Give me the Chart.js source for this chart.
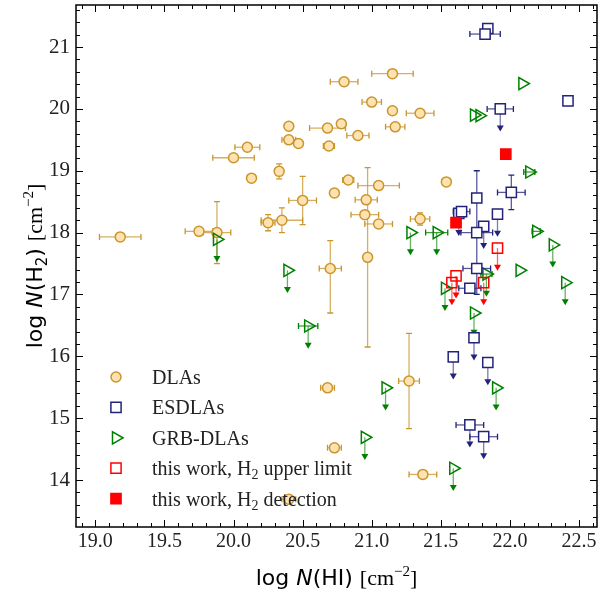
<!DOCTYPE html>
<html>
<head>
<meta charset="utf-8">
<script src="https://cdn.jsdelivr.net/npm/chart.js@4.4.1/dist/chart.umd.min.js"></script>
<style>
  html, body { margin: 0; padding: 0; background: #ffffff; }
  #wrap { width: 614px; height: 592px; }
</style>
</head>
<body>
<div id="wrap"><canvas id="c" width="614" height="592"></canvas></div>
<script>
// ---------- H I and H2 column densities (log cm^-2) ----------
// DLAs
const dlaHI = [20.80,20.40,20.68,20.78,20.40,20.47,20.69,20.10,20.00,20.13,
               20.33,20.83,20.73,20.50,20.25,20.35,19.75,19.88,19.18,20.70,
               21.15,21.00,21.15,21.35,21.17,20.90,21.05,21.54,20.96,20.95,
               21.05,21.35,20.97,20.68,20.73,20.40,21.27,21.37];
const dlaH2 = [20.44,19.72,19.69,19.76,19.50,19.44,19.40,19.38,19.21,18.88,
               18.99,18.85,18.64,18.52,18.16,18.20,18.02,18.00,17.93,17.42,
               20.57,20.11,19.97,19.93,19.71,19.57,18.76,18.82,18.53,18.29,
               18.14,18.22,17.60,15.49,14.52,13.69,15.60,14.09];
const dlaHIerr = [0.10,0,0.13,0,0.05,0,0.04,0.09,0.15,0,
                  0,0.04,0,0.10,0.05,0.15,0.10,0.10,0.15,0.08,
                  0.15,0.07,0,0.10,0.07,0.08,0.15,0,0.08,0.10,
                  0.10,0.07,0,0.05,0.05,0.05,0.075,0.10];
const dlaH2errLo = [0,0,0,0,0.05,0,0.05,0.04,0.05,0,
                    0.12,0.05,0,0.39,0.13,0.20,0.04,0.50,0,0.72,
                    0,0,0,0,0,0.05,0,0,0,0,
                    0,0.10,1.45,0,0,0,0.77,0];
const dlaH2errHi = [0,0,0,0,0.05,0,0.05,0.04,0.05,0,
                    0.12,0.05,0,0.39,0.13,0.20,0.04,0.50,0,0.45,
                    0,0,0,0,0,0.05,0,0,0,0,
                    0,0.10,1.45,0,0,0,0.77,0];

// ESDLAs
const esHI    = [21.84,21.82,22.42,21.93,22.01,21.76,21.63,21.65,21.91,21.81,21.76,21.76,21.71,21.74,21.59,21.84,21.71,21.81];
const esH2    = [21.30,21.21,20.13,20.00,18.65,18.56,18.31,18.34,18.30,18.10,18.00,17.42,17.10,16.30,15.99,15.90,14.89,14.70];
const esHIerr = [0,0.11,0,0.095,0.10,0,0,0.06,0,0,0.115,0.10,0.08,0,0,0,0.10,0.10];
const esH2err = [0,0,0,0,0.28,0,0,0,0,0,1.0,0,0,0,0,0,0,0];
const esUpper = [0,0,0,1,0,0,1,0,1,1,0,0,0,1,1,1,1,1];

// GRB-DLAs
const grbHI    = [22.09,21.74,21.78,22.14,22.19,22.31,21.28,21.47,22.07,22.40,21.53,21.74,21.83,21.90,21.10,20.95,21.59,20.39,20.54,19.88];
const grbH2    = [20.41,19.90,19.89,18.98,18.02,17.80,18.00,18.00,17.39,17.19,17.10,16.70,17.33,15.49,15.49,14.69,14.19,17.39,16.49,17.89];
const grbHIerr = [0,0,0,0.04,0.03,0,0,0.08,0,0,0,0,0.04,0,0,0,0,0,0.07,0];
const grbUpper = [0,0,0,0,0,1,1,1,0,1,1,1,1,1,1,1,1,1,1,1];

// this work
const twLimHI = [21.61,21.58,21.81,21.91];
const twLimH2 = [17.30,17.19,17.19,17.75];
const twDetHI = [21.61,21.97];
const twDetH2 = [18.16,19.27];

// axis ticks
const xMajorTicks = [19.0,19.5,20.0,20.5,21.0,21.5,22.0,22.5];
const yMajorTicks = [14,15,16,17,18,19,20,21];
const X_MINOR_STEP = 0.1, Y_MINOR_STEP = 0.2;
const X_RANGE = [18.86, 22.63];
const Y_RANGE = [13.24, 21.68];
const LIMIT_ARROW = 0.35;   // length of upper-limit arrows (dex)

// legend entries
const legendLabels = ['DLAs', 'ESDLAs', 'GRB-DLAs', 'this work, H|2| upper limit', 'this work, H|2| detection'];

// ---------- styles ----------
const SERIF = '"Liberation Serif", "Times New Roman", serif';
const SANS = '"DejaVu Sans", sans-serif';
const C_DLA_EDGE = '#c8962d', C_DLA_FACE = '#ffe2b0';
const C_ES = '#23237a', C_GRB = '#008000', C_RED = '#ff0000';

const pts = (xs, ys) => xs.map((x, i) => ({x: x, y: ys[i]}));
const zeros = n => new Array(n).fill(0);

const datasets = [
  { label: 'DLAs', data: pts(dlaHI, dlaH2), order: 5,
    pointStyle: 'circle', pointRadius: 5, pointBorderWidth: 1.5,
    backgroundColor: C_DLA_FACE, borderColor: C_DLA_EDGE,
    err: { color: C_DLA_EDGE, xerr: dlaHIerr, ylo: dlaH2errLo, yhi: dlaH2errHi, up: zeros(dlaHI.length) } },
  { label: 'GRB-DLAs', data: pts(grbHI, grbH2), order: 4,
    pointStyle: 'triangle', pointRotation: 90, pointRadius: 7, pointBorderWidth: 1.5,
    backgroundColor: 'rgba(0,0,0,0)', borderColor: C_GRB,
    err: { color: C_GRB, xerr: grbHIerr, ylo: zeros(grbHI.length), yhi: zeros(grbHI.length), up: grbUpper } },
  { label: 'ESDLAs', data: pts(esHI, esH2), order: 3,
    pointStyle: 'rect', pointRadius: 7.2, pointBorderWidth: 1.5,
    backgroundColor: '#ffffff', borderColor: C_ES,
    err: { color: C_ES, xerr: esHIerr, ylo: esH2err, yhi: esH2err, up: esUpper } },
  { label: 'this work, upper limit', data: pts(twLimHI, twLimH2), order: 2,
    pointStyle: 'rect', pointRadius: 7.2, pointBorderWidth: 1.5,
    backgroundColor: 'rgba(0,0,0,0)', borderColor: C_RED,
    err: { color: C_RED, xerr: zeros(4), ylo: zeros(4), yhi: zeros(4), up: [1,1,1,1] } },
  { label: 'this work, detection', data: pts(twDetHI, twDetH2), order: 1,
    pointStyle: 'rect', pointRadius: 7.2, pointBorderWidth: 1.5,
    backgroundColor: C_RED, borderColor: C_RED }
];

// error bars and upper-limit arrows, drawn just below each dataset's markers
const errorBars = {
  id: 'errorBars',
  beforeDatasetDraw(chart, args) {
    const ds = chart.data.datasets[args.index];
    if (!ds.err) return;
    const {ctx, scales: {x: xs, y: ys}} = chart;
    const e = ds.err, cap = 3;
    ctx.save();
    ctx.lineWidth = 1.3;
    ds.data.forEach((p, i) => {
      const px = xs.getPixelForValue(p.x), py = ys.getPixelForValue(p.y);
      ctx.strokeStyle = e.color; ctx.fillStyle = e.color;
      if (e.xerr[i] > 0) {
        const x0 = xs.getPixelForValue(p.x - e.xerr[i]), x1 = xs.getPixelForValue(p.x + e.xerr[i]);
        ctx.globalAlpha = 0.75;
        ctx.beginPath(); ctx.moveTo(x0, py); ctx.lineTo(x1, py); ctx.stroke();
        ctx.globalAlpha = 1;
        ctx.beginPath();
        ctx.moveTo(x0, py - cap); ctx.lineTo(x0, py + cap);
        ctx.moveTo(x1, py - cap); ctx.lineTo(x1, py + cap);
        ctx.stroke();
      }
      if (e.ylo[i] > 0 || e.yhi[i] > 0) {
        const y0 = ys.getPixelForValue(p.y - e.ylo[i]), y1 = ys.getPixelForValue(p.y + e.yhi[i]);
        ctx.globalAlpha = 0.75;
        ctx.beginPath(); ctx.moveTo(px, y0); ctx.lineTo(px, y1); ctx.stroke();
        ctx.globalAlpha = 1;
        ctx.beginPath();
        ctx.moveTo(px - cap, y0); ctx.lineTo(px + cap, y0);
        ctx.moveTo(px - cap, y1); ctx.lineTo(px + cap, y1);
        ctx.stroke();
      }
      if (e.up[i]) {
        const yEnd = ys.getPixelForValue(p.y - LIMIT_ARROW);
        ctx.globalAlpha = 0.6;
        ctx.beginPath(); ctx.moveTo(px, py); ctx.lineTo(px, yEnd - 4); ctx.stroke();
        ctx.globalAlpha = 1;
        ctx.beginPath();
        ctx.moveTo(px - 3.5, yEnd - 5); ctx.lineTo(px + 3.5, yEnd - 5); ctx.lineTo(px, yEnd + 1);
        ctx.closePath(); ctx.fill();
      }
    });
    ctx.restore();
  }
};

// axes frame with inward ticks on all four sides
const frameTicks = {
  id: 'frameTicks',
  afterDatasetsDraw(chart) {
    const {ctx, chartArea: a, scales: {x: xs, y: ys}} = chart;
    ctx.save();
    ctx.strokeStyle = '#000'; ctx.lineWidth = 1;
    const tick = (len, isX, v) => {
      if (isX) {
        const p = Math.round(xs.getPixelForValue(v)) + 0.5;
        ctx.moveTo(p, a.bottom); ctx.lineTo(p, a.bottom - len);
        ctx.moveTo(p, a.top); ctx.lineTo(p, a.top + len);
      } else {
        const p = Math.round(ys.getPixelForValue(v)) + 0.5;
        ctx.moveTo(a.left, p); ctx.lineTo(a.left + len, p);
        ctx.moveTo(a.right, p); ctx.lineTo(a.right - len, p);
      }
    };
    ctx.beginPath();
    for (let k = Math.ceil(X_RANGE[0] / X_MINOR_STEP); k * X_MINOR_STEP <= X_RANGE[1]; k++) tick(4, true, k * X_MINOR_STEP);
    for (let k = Math.ceil(Y_RANGE[0] / Y_MINOR_STEP); k * Y_MINOR_STEP <= Y_RANGE[1]; k++) tick(4, false, k * Y_MINOR_STEP);
    xMajorTicks.forEach(v => tick(7, true, v));
    yMajorTicks.forEach(v => tick(7, false, v));
    ctx.stroke();
    ctx.lineWidth = 1.5;
    ctx.strokeRect(a.left, a.top, a.right - a.left, a.bottom - a.top);
    ctx.restore();
  }
};

// draws a run of text pieces, each with its own font and vertical shift
function drawPieces(ctx, pieces, cx, baseY) {
  let total = 0;
  pieces.forEach(p => { ctx.font = p.font; p.w = ctx.measureText(p.t).width; total += p.w; });
  let x = cx - total / 2;
  ctx.textAlign = 'left'; ctx.textBaseline = 'alphabetic';
  pieces.forEach(p => { ctx.font = p.font; ctx.fillText(p.t, x, baseY + (p.dy || 0)); x += p.w; });
}

const axisTitles = {
  id: 'axisTitles',
  afterDraw(chart) {
    const {ctx, chartArea: a} = chart;
    ctx.save();
    ctx.fillStyle = '#000';
    const big = '22px ' + SANS, ital = 'italic 22px ' + SANS;
    const ser = '22px ' + SERIF, sup = '15px ' + SERIF;
    drawPieces(ctx, [
      {t: 'log ', font: big}, {t: 'N', font: ital}, {t: '(HI) ', font: big},
      {t: '[cm', font: ser}, {t: '\u22122', font: sup, dy: -9}, {t: ']', font: ser}
    ], (a.left + a.right) / 2, 585);
    ctx.translate(42, (a.top + a.bottom) / 2);
    ctx.rotate(-Math.PI / 2);
    drawPieces(ctx, [
      {t: 'log ', font: big}, {t: 'N', font: ital}, {t: '(H', font: big},
      {t: '2', font: '15px ' + SANS, dy: 5}, {t: ') ', font: big},
      {t: '[cm', font: ser}, {t: '\u22122', font: sup, dy: -9}, {t: ']', font: ser}
    ], 0, 0);
    ctx.restore();
  }
};

// legend in the lower-left corner of the plot
const legendBox = {
  id: 'legendBox',
  afterDraw(chart) {
    const {ctx, chartArea: a} = chart;
    const styles = [
      {pointStyle: 'circle', radius: 5, fill: C_DLA_FACE, stroke: C_DLA_EDGE},
      {pointStyle: 'rect', radius: 7.2, fill: '#ffffff', stroke: C_ES},
      {pointStyle: 'triangle', rotation: 90, radius: 7, fill: 'rgba(0,0,0,0)', stroke: C_GRB},
      {pointStyle: 'rect', radius: 7.2, fill: 'rgba(0,0,0,0)', stroke: C_RED},
      {pointStyle: 'rect', radius: 7.2, fill: C_RED, stroke: C_RED}
    ];
    ctx.save();
    legendLabels.forEach((lab, i) => {
      const my = 377 + i * 30.4, mx = a.left + 40;
      const s = styles[i];
      ctx.fillStyle = s.fill; ctx.strokeStyle = s.stroke; ctx.lineWidth = 1.5;
      Chart.helpers.drawPoint(ctx, {pointStyle: s.pointStyle, radius: s.radius, rotation: s.rotation || 0, borderWidth: 1.5}, mx, my);
      const parts = lab.split('|');
      let x = a.left + 76;
      ctx.fillStyle = '#222'; ctx.textAlign = 'left'; ctx.textBaseline = 'alphabetic';
      parts.forEach((t, k) => {
        const sub = k % 2 === 1;
        ctx.font = (sub ? '14px ' : '20px ') + SERIF;
        ctx.fillText(t, x, my + 7 + (sub ? 4 : 0));
        x += ctx.measureText(t).width;
      });
    });
    ctx.restore();
  }
};

// keep the plot box fixed: no extra room reserved for edge tick labels
const fixPadding = s => { s.paddingTop = 0; s.paddingBottom = 0; s.paddingLeft = 0; s.paddingRight = 0; };

new Chart(document.getElementById('c'), {
  type: 'scatter',
  data: { datasets: datasets },
  options: {
    responsive: false,
    devicePixelRatio: 1,
    animation: false,
    events: [],
    layout: { autoPadding: false, padding: { top: 5, right: 17, left: 0, bottom: 0 } },
    plugins: { legend: { display: false }, tooltip: { enabled: false } },
    scales: {
      x: {
        type: 'linear', min: X_RANGE[0], max: X_RANGE[1],
        afterFit: s => { s.height = 65; fixPadding(s); },
        afterBuildTicks: s => { s.ticks = xMajorTicks.map(v => ({value: v})); },
        grid: { display: false, drawTicks: false },
        border: { display: false },
        ticks: { font: { family: SERIF, size: 20 }, color: '#222', padding: 3, maxRotation: 0, autoSkip: false,
                 callback: v => Number(v).toFixed(1) }
      },
      y: {
        type: 'linear', min: Y_RANGE[0], max: Y_RANGE[1],
        afterFit: s => { s.width = 76; fixPadding(s); },
        afterBuildTicks: s => { s.ticks = yMajorTicks.map(v => ({value: v})); },
        grid: { display: false, drawTicks: false },
        border: { display: false },
        ticks: { font: { family: SERIF, size: 21 }, color: '#222', padding: 6, autoSkip: false,
                 callback: v => String(v) }
      }
    }
  },
  plugins: [errorBars, frameTicks, axisTitles, legendBox]
});
</script>
</body>
</html>
